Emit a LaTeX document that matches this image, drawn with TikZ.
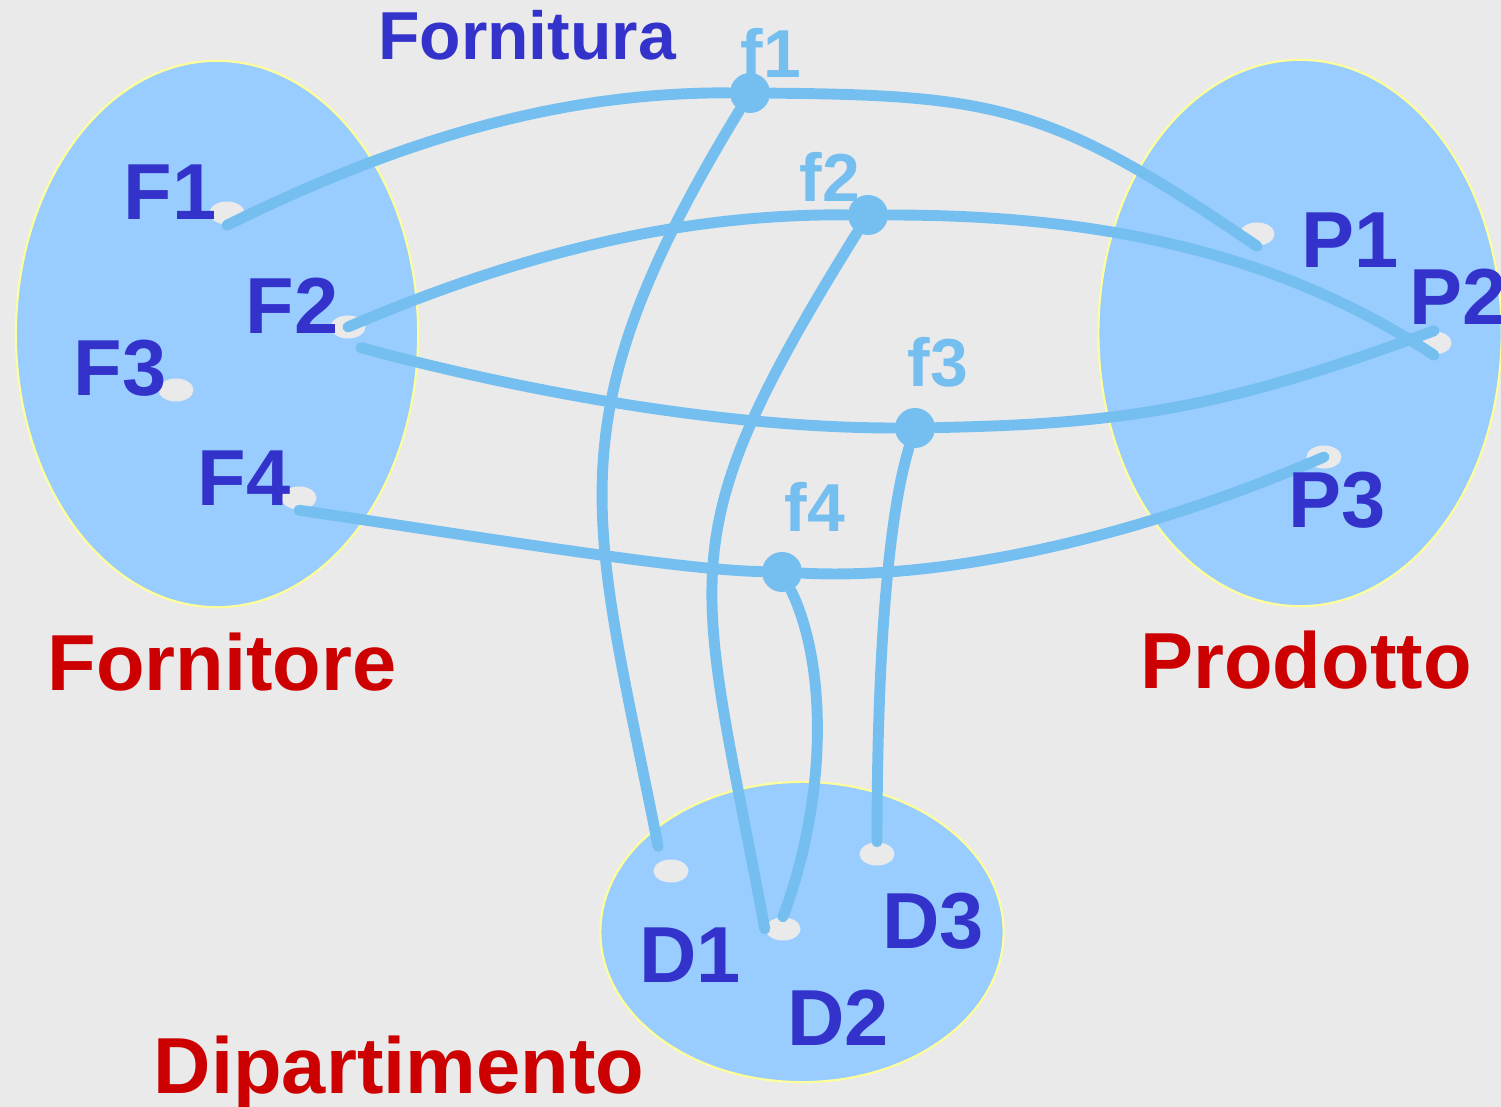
\documentclass[tikz,border=0pt]{standalone}
\usepackage{fontspec}
\setmainfont{Liberation Sans}
\usepackage{color}
\usepackage{tikz}
\usetikzlibrary{shapes.geometric}

\definecolor{bggray}{RGB}{234,234,234}
\definecolor{setblue}{RGB}{153,204,255}
\definecolor{setrim}{RGB}{255,255,153}
\definecolor{linkblue}{RGB}{116,191,240}
\definecolor{labblue}{RGB}{51,51,204}
\definecolor{namered}{RGB}{204,0,0}

\begin{document}
\begin{tikzpicture}
		[
		x=0.01cm, y=-0.01cm,
		line cap=round,
		link/.style={draw=linkblue,line width=3.1pt}
		]
		
		% Node styles: sets, elements, relationship instances
		\tikzstyle{set node}=[ellipse,draw=setrim,line width=0.6pt,fill=setblue,inner sep=0];
		\tikzstyle{elem node}=[ellipse,fill=bggray,inner sep=0,minimum width=0.35cm,minimum height=0.23cm];
		\tikzstyle{rel node}=[circle,fill=linkblue,inner sep=0,minimum size=0.4cm];
		
		% Text styles
		\tikzstyle{elem label}=[anchor=base,inner sep=0,text=labblue,font=\bfseries\fontsize{22.6}{26}\selectfont];
		\tikzstyle{set label}=[anchor=base,inner sep=0,text=namered,font=\bfseries\fontsize{22.6}{26}\selectfont];
		\tikzstyle{rel label}=[anchor=base,inner sep=0,text=linkblue,font=\bfseries\fontsize{19.3}{23}\selectfont];
		
		% Background
		\useasboundingbox (0,0) rectangle (1501,1107);
		\fill[bggray] (0,0) rectangle (1501,1107);
		
		% The three sets
		\node(Forn)[set node,minimum width=4.02cm,minimum height=5.46cm]at(217,334){};
		\node(Prod)[set node,minimum width=4.03cm,minimum height=5.46cm]at(1300,333){};
		\node(Dip)[set node,minimum width=4.03cm,minimum height=3.00cm]at(802,932){};
		
		% Elements
		\node(F1)[elem node]at(227,213){};
		\node(F2)[elem node]at(348,327){};
		\node(F3)[elem node]at(176,390){};
		\node(F4)[elem node]at(299,498){};
		\node(P1)[elem node]at(1257,234){};
		\node(P2)[elem node]at(1434,343){};
		\node(P3)[elem node]at(1324,457){};
		\node(D1)[elem node]at(671,871){};
		\node(D2)[elem node]at(783,929){};
		\node(D3)[elem node]at(877,854){};
		
		% Relationship instances
		\node(f1)[rel node]at(750,93){};
		\node(f2)[rel node]at(868,215){};
		\node(f3)[rel node]at(915,428){};
		\node(f4)[rel node]at(782,572){};
		
		% f1
		\draw[link](F1.south) .. controls (400,140) and (560,92) .. (f1);
		\draw[link](f1) .. controls (999,95) and (1053,107) .. (P1.south);
		\draw[link](f1) .. controls (548,425) and (593,516) .. ([yshift=0.16cm]D1.north west);
		% f2
		\draw[link](f2) .. controls (720,214) and (560,236) .. (F2.center);
		\draw[link](f2) .. controls (1046,215) and (1252,234) .. (P2.south);
		\draw[link](f2) .. controls (663,545) and (698,568) .. (D2.west);
		% f3
		\draw[link]([yshift=-0.12cm]F2.south east) .. controls (506,387) and (714,428) .. (f3);
		\draw[link](f3) .. controls (1125,424) and (1225,408) .. (P2.north);
		\draw[link](f3) .. controls (890,510) and (877,640) .. (D3.north);
		% f4
		\draw[link](F4.south) .. controls (500,540) and (680,570) .. (f4);
		\draw[link](f4) .. controls (930,580) and (1120,545) .. (P3.center);
		\draw[link](f4) .. controls (825,660) and (830,790) .. (D2.north);
		
		% Element names
		\node(lF1)[elem label]at(170,220){F1};
		\node(lF2)[elem label]at(292,334){F2};
		\node(lF3)[elem label]at(120,396){F3};
		\node(lF4)[elem label]at(244,506){F4};
		\node(lP1)[elem label]at(1350,268){P1};
		\node(lP2)[elem label]at(1458,325){P2};
		\node(lP3)[elem label]at(1337,528){P3};
		\node(lD1)[elem label]at(690,982){D1};
		\node(lD2)[elem label]at(838,1045){D2};
		\node(lD3)[elem label]at(933,948){D3};
		
		% Relationship names
		\node(lf1)[rel label]at(771,78){f1};
		\node(lf2)[rel label]at(830,202){f2};
		\node(lf3)[rel label]at(938,387){f3};
		\node(lf4)[rel label]at(815,532){f4};
		\node(lFornitura)[elem label,font=\bfseries\fontsize{19.3}{23}\selectfont]at(527,60){Fornitura};
		
		% Set names
		\node(lFornitore)[set label]at(222,690){Fornitore};
		\node(lProdotto)[set label]at(1306,688){Prodotto};
		\node(lDipartimento)[set label]at(399,1093){Dipartimento};
		
		\end{tikzpicture}
\end{document}
